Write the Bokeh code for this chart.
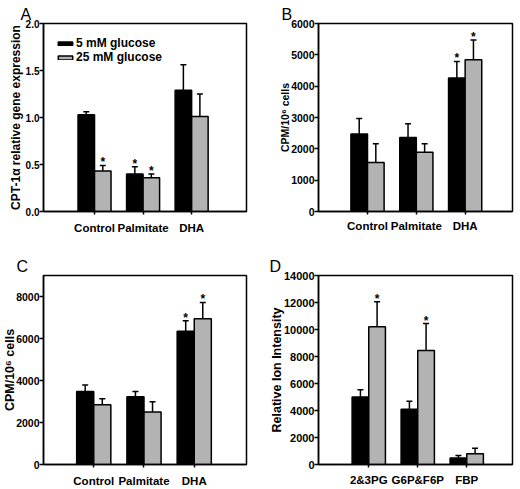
from bokeh.plotting import figure
from bokeh.models import (FixedTicker, Whisker, TeeHead, ColumnDataSource, Legend,
                          LegendItem, Range1d, Title, PrintfTickFormatter,
                          BasicTickFormatter)
from bokeh.layouts import gridplot
from bokeh.embed import file_html
from bokeh.resources import INLINE
from bokeh.core.properties import value

FONT = "Liberation Sans"
GREY = "#b3b3b3"

# ---------------- data ----------------
series_names = ["5 mM glucose", "25 mM glucose"]

cats_A = ["Control", "Palmitate", "DHA"]
A_5mM = [1.03, 0.40, 1.29]
A_5mM_err = [0.03, 0.075, 0.27]
A_25mM = [0.43, 0.36, 1.01]
A_25mM_err = [0.06, 0.04, 0.24]
A_star_5mM = [0, 1, 0]
A_star_25mM = [1, 1, 0]
A_yticks = [0.0, 0.5, 1.0, 1.5, 2.0]

cats_B = ["Control", "Palmitate", "DHA"]
B_5mM = [2470, 2360, 4260]
B_5mM_err = [500, 440, 530]
B_25mM = [1565, 1890, 4840]
B_25mM_err = [595, 270, 630]
B_star_5mM = [0, 0, 1]
B_star_25mM = [0, 0, 1]
B_yticks = [0, 1000, 2000, 3000, 4000, 5000, 6000]

cats_C = ["Control", "Palmitate", "DHA"]
C_5mM = [3475, 3225, 6340]
C_5mM_err = [315, 250, 500]
C_25mM = [2845, 2500, 6935]
C_25mM_err = [285, 490, 785]
C_star_5mM = [0, 0, 1]
C_star_25mM = [0, 0, 1]
C_yticks = [0, 2000, 4000, 6000, 8000]

cats_D = ["2&3PG", "G6P&F6P", "FBP"]
D_5mM = [5000, 4090, 480]
D_5mM_err = [530, 600, 190]
D_25mM = [10200, 8440, 795]
D_25mM_err = [1850, 2000, 410]
D_star_5mM = [0, 0, 0]
D_star_25mM = [1, 1, 0]
D_yticks = [0, 2000, 4000, 6000, 8000, 10000, 12000, 14000]

BAR_W = 0.34


def make_panel(letter, letter_offset, cats, s1, e1, s2, e2, st1, st2, yticks, yend,
               ylabel, xr, borders, size, fonts, ylab_standoff, xlab_standoff,
               yfmt=None, legend=False):
    w, h = size
    bl, br, bt, bb = borders
    tick_fs, cat_fs, lab_fs = fonts
    p = figure(width=w, height=h, toolbar_location=None,
               output_backend="svg", tools="",
               x_range=Range1d(*xr), y_range=Range1d(0, yend),
               min_border_left=bl, min_border_right=br,
               min_border_top=bt, min_border_bottom=bb)
    p.title = Title(text=letter, align="left", offset=letter_offset, standoff=1,
                    text_font=FONT, text_font_style="normal",
                    text_font_size="16px", text_color="black")
    p.xgrid.visible = False
    p.ygrid.visible = False
    p.outline_line_color = "black"
    p.outline_line_width = 1.5
    p.background_fill_color = "white"
    p.border_fill_color = "white"

    renderers = []
    for vals, errs, stars, off, fill in ((s1, e1, st1, -BAR_W / 2, "black"),
                                         (s2, e2, st2, BAR_W / 2, GREY)):
        xs = [i + off for i in range(len(cats))]
        tops = [v + e for v, e in zip(vals, errs)]
        src = ColumnDataSource(dict(x=xs, top=vals, err_top=tops))
        r = p.vbar(x="x", top="top", width=BAR_W, bottom=0, source=src,
                   fill_color=fill, line_color="black", line_width=1.5)
        renderers.append(r)
        p.add_layout(Whisker(source=src, base="x", lower="top", upper="err_top",
                             dimension="height", line_color="black", line_width=1.5,
                             lower_head=None,
                             upper_head=TeeHead(size=6, line_width=1.5,
                                                line_color="black")))
        sx = [x for x, s in zip(xs, stars) if s]
        sy = [t for t, s in zip(tops, stars) if s]
        if sx:
            p.text(x=sx, y=sy, text=["*"] * len(sx), text_align="center",
                   text_baseline="alphabetic", y_offset=-3,
                   text_font=value(FONT), text_font_style="bold",
                   text_font_size="12px", text_color="black")

    # x axis
    xa = p.xaxis[0]
    xa.ticker = FixedTicker(ticks=list(range(len(cats))))
    xa.major_label_overrides = {i: c for i, c in enumerate(cats)}
    xa.major_tick_in = 0
    xa.major_tick_out = 3
    xa.minor_tick_line_color = None
    xa.axis_line_width = 1.5
    xa.major_tick_line_width = 1.5
    xa.major_label_text_font = FONT
    xa.major_label_text_font_style = "bold"
    xa.major_label_text_font_size = cat_fs
    xa.major_label_standoff = xlab_standoff
    xa.major_label_text_color = "black"

    # y axis
    ya = p.yaxis[0]
    ya.ticker = FixedTicker(ticks=yticks)
    ya.formatter = yfmt if yfmt is not None else BasicTickFormatter(use_scientific=False)
    ya.major_tick_in = 0
    ya.major_tick_out = 4
    ya.minor_tick_line_color = None
    ya.axis_line_width = 1.5
    ya.major_tick_line_width = 1.5
    ya.major_label_text_font = FONT
    ya.major_label_text_font_style = "bold"
    ya.major_label_text_font_size = tick_fs
    ya.major_label_standoff = 0
    ya.major_label_text_color = "black"
    ya.axis_label = ylabel
    ya.axis_label_text_font = FONT
    ya.axis_label_text_font_style = "bold"
    ya.axis_label_text_font_size = lab_fs
    ya.axis_label_text_color = "black"
    ya.axis_label_standoff = ylab_standoff

    if legend:
        lg = Legend(items=[LegendItem(label=series_names[0], renderers=[renderers[0]]),
                           LegendItem(label=series_names[1], renderers=[renderers[1]])],
                    location=(13, 147), orientation="vertical",
                    glyph_width=18, glyph_height=5, label_height=12,
                    label_standoff=2, spacing=0, padding=0, margin=0,
                    label_text_font=FONT, label_text_font_style="bold",
                    label_text_font_size="12px", label_text_color="black",
                    border_line_alpha=0, background_fill_alpha=0)
        p.add_layout(lg)
    return p


pA = make_panel("A", -23, cats_A, A_5mM, A_5mM_err, A_25mM, A_25mM_err,
                A_star_5mM, A_star_25mM, A_yticks, 2.0,
                "CPT-1\u03b1 relative gene expression",
                (-1.051, 3.13), (40, 8, 19, 34), (260, 245),
                ("10px", "11.5px", "12px"), 0, 7,
                yfmt=PrintfTickFormatter(format="%.1f"), legend=True)

pB = make_panel("B", -37, cats_B, B_5mM, B_5mM_err, B_25mM, B_25mM_err,
                B_star_5mM, B_star_25mM, B_yticks, 6000,
                "CPM/10\u2076 cells",
                (-1.004, 2.97), (46, 8, 23, 30), (260, 245),
                ("10.5px", "11.5px", "10.5px"), -3, 5)

pC = make_panel("C", -27, cats_C, C_5mM, C_5mM_err, C_25mM, C_25mM_err,
                C_star_5mM, C_star_25mM, C_yticks, 9000,
                "CPM/10\u2076 cells",
                (-1.0, 3.04), (40, 14, 30, 25), (260, 244),
                ("10.5px", "11.5px", "12.5px"), -4, 7)

pD = make_panel("D", -49, cats_D, D_5mM, D_5mM_err, D_25mM, D_25mM_err,
                D_star_5mM, D_star_25mM, D_yticks, 14000,
                "Relative Ion Intensity",
                (-1.026, 2.934), (58, 3, 29, 24), (260, 244),
                ("11px", "11.5px", "12.5px"), -3, 6)

grid = gridplot([[pA, pB], [pC, pD]], toolbar_location=None)

open("out.html", "w").write(file_html(grid, INLINE))
